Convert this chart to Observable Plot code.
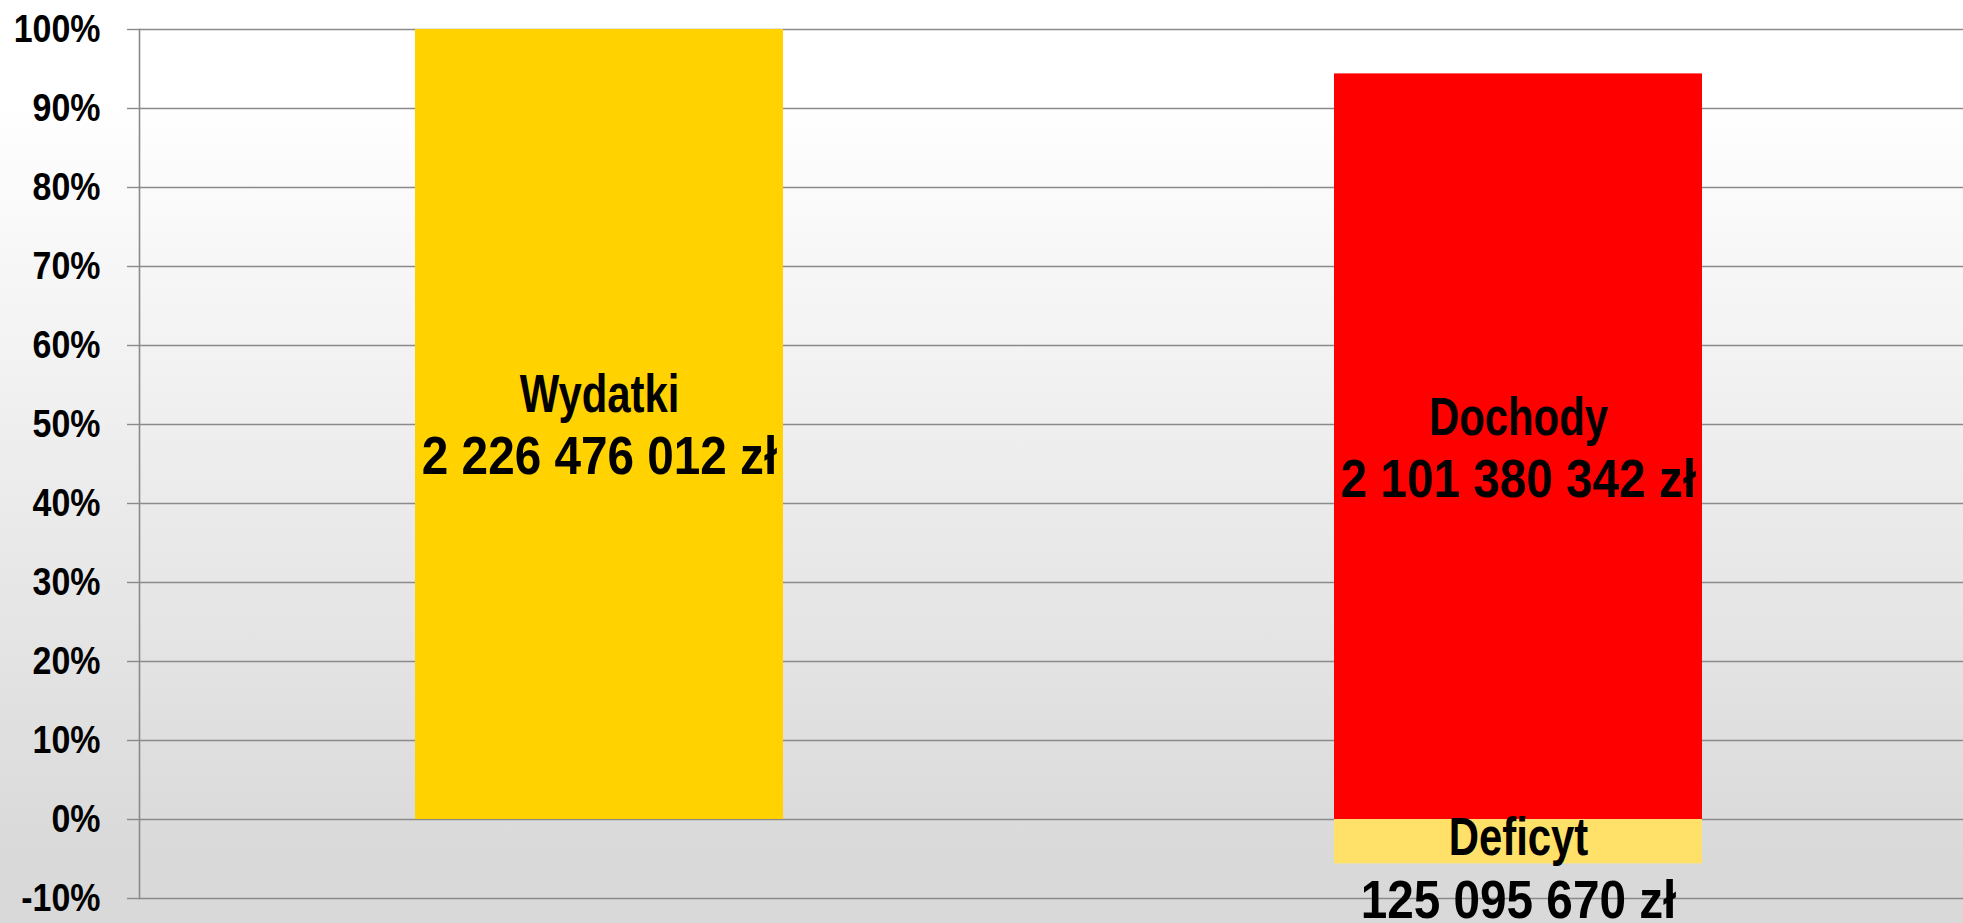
<!DOCTYPE html>
<html>
<head>
<meta charset="utf-8">
<script src="https://cdn.jsdelivr.net/npm/d3@7"></script>
<script src="https://cdn.jsdelivr.net/npm/@observablehq/plot@0.6"></script>
<style>
  html, body { margin: 0; padding: 0; }
  body {
    width: 1963px; height: 923px; overflow: hidden;
    background: linear-gradient(to bottom, #ffffff 0px, #ffffff 100px, #d9d9d9 860px, #d9d9d9 923px);
  }
  #chart svg { background: transparent !important; display: block; }
</style>
</head>
<body>
<div id="chart"></div>
<script>
// ---- data ----
const categories = ["Wydatki", "Dochody"];
const seriesNames = ["Wydatki", "Dochody", "Deficyt"];
const seriesCategory = ["Wydatki", "Dochody", "Dochody"];
const amounts = [2226476012, 2101380342, 125095670];
const percents = [100, 94.38, -5.62];
const colors = ["#ffd200", "#ff0000", "#ffe169"];
const yTicks = [-10, 0, 10, 20, 30, 40, 50, 60, 70, 80, 90, 100];

const pl = d3.formatLocale({decimal: ",", thousands: " ", grouping: [3], currency: ["", " zł"]});
const fmt = pl.format("$,.0f");

const rows = seriesNames.map((name, i) => ({
  name, cat: seriesCategory[i], amount: amounts[i], pct: percents[i], color: colors[i],
  value: fmt(amounts[i])
}));
const mainRows = rows.filter(d => d.pct > 0);
const defRows = rows.filter(d => d.pct < 0);

const FONT = "'Liberation Sans', Arial, sans-serif";
const LBL = {fill: "#000", fontSize: 53, fontWeight: "bold", fontFamily: FONT, lineAnchor: "middle"};

const chart = Plot.plot({
  width: 1963,
  height: 923,
  marginTop: 29,
  marginBottom: 25,
  marginLeft: 139,
  marginRight: 0,
  style: {background: "transparent", fontFamily: FONT, overflow: "visible"},
  x: {type: "band", domain: categories, range: [415, 1702], paddingInner: 0.6, paddingOuter: 0, axis: null},
  y: {domain: [-10, 100]},
  marks: [
    Plot.ruleY(yTicks, {stroke: "#8a8a8a", strokeWidth: 1.4}),
    Plot.barY(rows, {x: "cat", y1: 0, y2: "pct", fill: "color"}),
    Plot.frame({anchor: "left", stroke: "#8a8a8a", strokeWidth: 1.6}),
    Plot.axisY({
      ticks: yTicks, tickSize: 12, tickPadding: 27, tickFormat: d => d + "%",
      stroke: "#8a8a8a", strokeWidth: 1.4, fill: "#000",
      fontSize: 39, fontWeight: "bold", fontFamily: FONT, label: null
    }),
    Plot.text(mainRows, {x: "cat", y: d => d.pct / 2, text: "name", dy: -29, ...LBL}),
    Plot.text(mainRows, {x: "cat", y: d => d.pct / 2, text: "value", dy: 33, ...LBL}),
    Plot.text(defRows, {x: "cat", y: "pct", text: "name", dy: -26, ...LBL}),
    Plot.text(defRows, {x: "cat", y: "pct", text: "value", dy: 37, ...LBL})
  ]
});

// narrow the glyphs horizontally (condensed look of the original)
chart.querySelectorAll("text").forEach(t => {
  const s = t.textContent;
  let k;
  if (/%$/.test(s)) k = 0.87;
  else if (/\d/.test(s)) k = 0.90;
  else k = 0.79;
  const tr = t.getAttribute("transform");
  if (tr) {
    t.setAttribute("transform", tr + ` scale(${k},1)`);
  } else {
    const x = +(t.getAttribute("x") || 0), y = +(t.getAttribute("y") || 0);
    t.removeAttribute("x"); t.removeAttribute("y");
    t.setAttribute("transform", `translate(${x},${y}) scale(${k},1)`);
  }
});

document.getElementById("chart").appendChild(chart);
</script>
</body>
</html>
